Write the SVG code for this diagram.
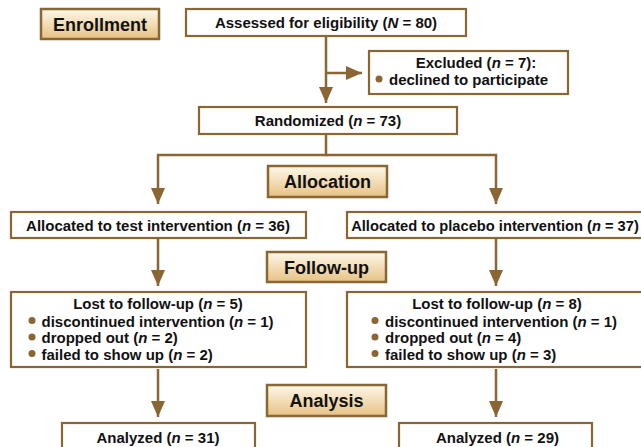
<svg xmlns="http://www.w3.org/2000/svg" width="641" height="447" viewBox="0 0 641 447">
<defs>
<linearGradient id="lab" x1="0" y1="0" x2="0" y2="1">
<stop offset="0" stop-color="#FFF8EA"/>
<stop offset="1" stop-color="#E6C283"/>
</linearGradient>
<marker id="ah" viewBox="0 0 16 14" refX="16" refY="7" markerWidth="16" markerHeight="14" markerUnits="userSpaceOnUse" orient="auto">
<path d="M0,0 L16,7 L0,14 z" fill="#8A6632"/>
</marker>
</defs>
<style>
.box{fill:#fff;stroke:#8A6632;stroke-width:2.2}
.lab{fill:url(#lab);stroke:#8A6632;stroke-width:2.5}
.t{font-family:"Liberation Sans",Arial,sans-serif;font-weight:bold;font-size:15px;fill:#111}
.lt{font-family:"Liberation Sans",Arial,sans-serif;font-weight:bold;font-size:18px;fill:#111;text-anchor:middle}
.c{text-anchor:middle}
.i{font-style:italic}
.b{fill:#8A6632}
.con{fill:none;stroke:#8A6632;stroke-width:2.5}
</style>
<g id="connectors">
<path class="con" d="M326,36 V103" marker-end="url(#ah)"/>
<path class="con" d="M326,73 H362" marker-end="url(#ah)"/>
<path class="con" d="M326,134 V155"/>
<path class="con" d="M327,155 H158 V204" marker-end="url(#ah)"/>
<path class="con" d="M325,155 H496 V204" marker-end="url(#ah)"/>
<path class="con" d="M158,238 V286" marker-end="url(#ah)"/>
<path class="con" d="M496,238 V286" marker-end="url(#ah)"/>
<path class="con" d="M158,369 V417" marker-end="url(#ah)"/>
<path class="con" d="M496,369 V417" marker-end="url(#ah)"/>
</g>
<g id="enrollment">
<rect class="lab" x="41" y="9" width="118" height="30"/>
<text class="lt" x="100" y="30.5">Enrollment</text>
</g>
<g id="assessed">
<rect class="box" x="186" y="9" width="280" height="27"/>
<text class="t c" x="326" y="27.5">Assessed for eligibility (<tspan class="i">N</tspan> = 80)</text>
</g>
<g id="excluded">
<rect class="box" x="369" y="51" width="199" height="43"/>
<text class="t c" x="476" y="68">Excluded (<tspan class="i">n</tspan> = 7):</text>
<circle class="b" cx="379" cy="79" r="3.5"/>
<text class="t" x="389" y="84.5">declined to participate</text>
</g>
<g id="randomized">
<rect class="box" x="199" y="107" width="258" height="27"/>
<text class="t c" x="328" y="126">Randomized (<tspan class="i">n</tspan> = 73)</text>
</g>
<g id="allocation">
<rect class="lab" x="268" y="166" width="119" height="31"/>
<text class="lt" x="327.5" y="187.5">Allocation</text>
</g>
<g id="alloc-test">
<rect class="box" x="11" y="212" width="295" height="26"/>
<text class="t c" x="158" y="230.5">Allocated to test intervention (<tspan class="i">n</tspan> = 36)</text>
</g>
<g id="alloc-placebo">
<rect class="box" x="347" y="212" width="300" height="26"/>
<text class="t c" x="495" y="230.5" style="font-size:14.7px">Allocated to placebo intervention (<tspan class="i">n</tspan> = 37)</text>
</g>
<g id="followup">
<rect class="lab" x="267" y="252" width="119" height="30"/>
<text class="lt" x="326.5" y="273.5">Follow-up</text>
</g>
<g id="lost-test">
<rect class="box" x="11" y="292" width="295" height="75"/>
<text class="t c" x="158" y="308.5">Lost to follow-up (<tspan class="i">n</tspan> = 5)</text>
<circle class="b" cx="32" cy="320.5" r="3.5"/>
<text class="t" x="41.5" y="326.5">discontinued intervention (<tspan class="i">n</tspan> = 1)</text>
<circle class="b" cx="32" cy="337" r="3.5"/>
<text class="t" x="41.5" y="343">dropped out (<tspan class="i">n</tspan> = 2)</text>
<circle class="b" cx="32" cy="353.5" r="3.5"/>
<text class="t" x="41.5" y="359.5">failed to show up (<tspan class="i">n</tspan> = 2)</text>
</g>
<g id="lost-placebo">
<rect class="box" x="347" y="292" width="300" height="75"/>
<text class="t c" x="497" y="308.5">Lost to follow-up (<tspan class="i">n</tspan> = 8)</text>
<circle class="b" cx="375" cy="320.5" r="3.5"/>
<text class="t" x="385" y="326.5">discontinued intervention (<tspan class="i">n</tspan> = 1)</text>
<circle class="b" cx="375" cy="337" r="3.5"/>
<text class="t" x="385" y="343">dropped out (<tspan class="i">n</tspan> = 4)</text>
<circle class="b" cx="375" cy="353.5" r="3.5"/>
<text class="t" x="385" y="359.5">failed to show up (<tspan class="i">n</tspan> = 3)</text>
</g>
<g id="analysis">
<rect class="lab" x="267" y="385" width="119" height="31"/>
<text class="lt" x="326.5" y="406.5">Analysis</text>
</g>
<g id="analyzed-test">
<rect class="box" x="62" y="423" width="193" height="40"/>
<text class="t c" x="158" y="442.5">Analyzed (<tspan class="i">n</tspan> = 31)</text>
</g>
<g id="analyzed-placebo">
<rect class="box" x="399" y="423" width="193" height="40"/>
<text class="t c" x="497.5" y="442.5">Analyzed (<tspan class="i">n</tspan> = 29)</text>
</g>
</svg>
